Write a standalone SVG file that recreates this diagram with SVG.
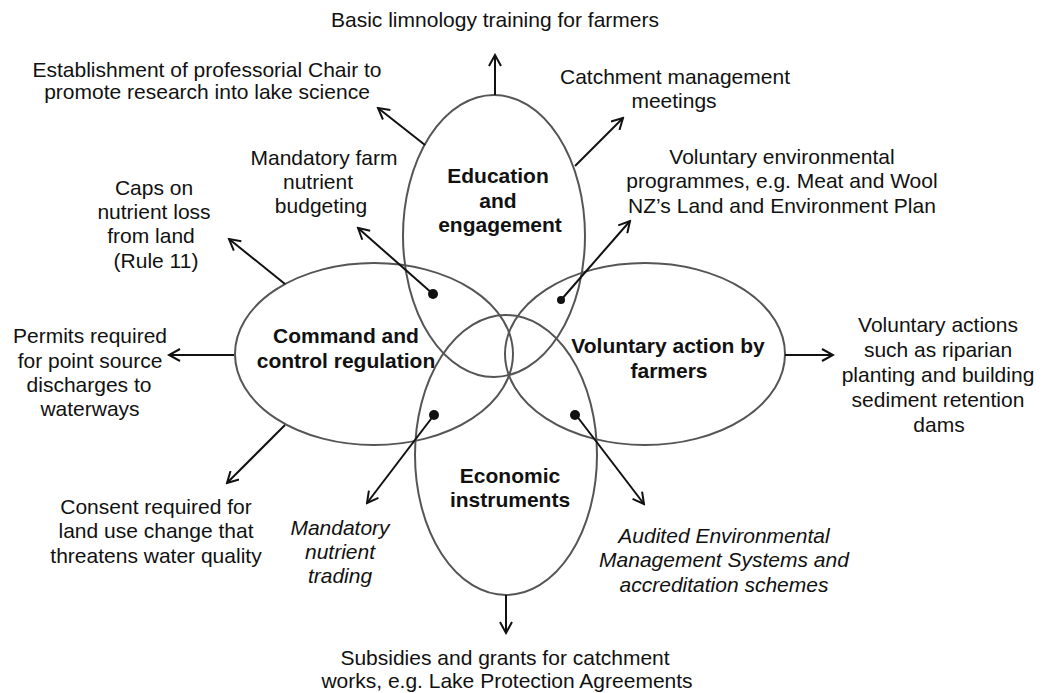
<svg xmlns="http://www.w3.org/2000/svg" width="1042" height="693" viewBox="0 0 1042 693">
<style>
.t{font-family:"Liberation Sans",Arial,sans-serif;font-size:21px;fill:#111;text-anchor:middle}
.b{font-weight:bold}
.i{font-style:italic}
.e{fill:none;stroke:#555;stroke-width:2}
.c{fill:none;stroke:#111;stroke-width:2;marker-end:url(#ah)}
</style>
<defs>
<marker id="ah" markerUnits="userSpaceOnUse" viewBox="0 0 14 14" refX="12" refY="7" markerWidth="14" markerHeight="14" orient="auto">
<path d="M1,1 L12,7 L1,13" fill="none" stroke="#111" stroke-width="2"/>
</marker>
</defs>
<rect width="1042" height="693" fill="#fff"/>
<g id="education">
<ellipse class="e" cx="494" cy="236" rx="91" ry="141"/>
<text class="t b" x="498" y="183">Education</text>
<text class="t b" x="498" y="208">and</text>
<text class="t b" x="500" y="232">engagement</text>
</g>
<g id="command">
<ellipse class="e" cx="374" cy="354" rx="139" ry="91"/>
<text class="t b" x="346" y="343">Command and</text>
<text class="t b" x="346" y="368">control regulation</text>
</g>
<g id="voluntary">
<ellipse class="e" cx="645" cy="354" rx="140" ry="91"/>
<text class="t b" x="668" y="353">Voluntary action  by</text>
<text class="t b" x="669" y="378">farmers</text>
</g>
<g id="economic">
<ellipse class="e" cx="506" cy="455" rx="91" ry="140"/>
<text class="t b" x="510" y="483">Economic</text>
<text class="t b" x="510" y="507">instruments</text>
</g>
<g id="connectors">
<line class="c" x1="495" y1="95" x2="495" y2="55"/>
<line class="c" x1="425" y1="145" x2="378" y2="108"/>
<line class="c" x1="575" y1="166" x2="623" y2="118"/>
<line class="c" x1="561" y1="300" x2="630" y2="221"/>
<line class="c" x1="433" y1="294" x2="358" y2="228"/>
<line class="c" x1="285" y1="284" x2="229" y2="239"/>
<line class="c" x1="234" y1="355" x2="169" y2="355"/>
<line class="c" x1="285" y1="425" x2="227" y2="483"/>
<line class="c" x1="434" y1="415" x2="367" y2="503"/>
<line class="c" x1="576" y1="415" x2="644" y2="504"/>
<line class="c" x1="785" y1="355" x2="833" y2="355"/>
<line class="c" x1="506" y1="595" x2="506" y2="633"/>
<circle cx="433" cy="294" r="5" fill="#111"/>
<circle cx="561" cy="300" r="4" fill="#111"/>
<circle cx="434" cy="415" r="5" fill="#111"/>
<circle cx="575" cy="415" r="5" fill="#111"/>
</g>
<g id="basic-limnology">
<text class="t" x="495" y="27">Basic limnology training for farmers</text>
</g>
<g id="chair">
<text class="t" x="207" y="77">Establishment of professorial Chair to</text>
<text class="t" x="207" y="99">promote research into lake science</text>
</g>
<g id="catchment-meetings">
<text class="t" x="675" y="84">Catchment management</text>
<text class="t" x="674" y="108">meetings</text>
</g>
<g id="voluntary-programmes">
<text class="t" x="782" y="164">Voluntary environmental</text>
<text class="t" x="782" y="188">programmes, e.g. Meat and Wool</text>
<text class="t" x="782" y="213">NZ’s Land and Environment Plan</text>
</g>
<g id="nutrient-budgeting">
<text class="t" x="324" y="165">Mandatory farm</text>
<text class="t" x="318" y="189">nutrient</text>
<text class="t" x="321" y="213">budgeting</text>
</g>
<g id="caps">
<text class="t" x="154" y="195">Caps on</text>
<text class="t" x="154" y="219">nutrient loss</text>
<text class="t" x="151" y="243">from land</text>
<text class="t" x="156" y="268">(Rule 11)</text>
</g>
<g id="permits">
<text class="t" x="90" y="343">Permits required</text>
<text class="t" x="90" y="368">for point source</text>
<text class="t" x="89" y="392">discharges to</text>
<text class="t" x="90" y="416">waterways</text>
</g>
<g id="consent">
<text class="t" x="156" y="514">Consent required for</text>
<text class="t" x="156" y="538">land use change that</text>
<text class="t" x="156" y="563">threatens water quality</text>
</g>
<g id="nutrient-trading">
<text class="t i" x="340" y="535">Mandatory</text>
<text class="t i" x="340" y="559">nutrient</text>
<text class="t i" x="340" y="583">trading</text>
</g>
<g id="audited">
<text class="t i" x="724" y="543">Audited Environmental</text>
<text class="t i" x="724" y="567">Management Systems and</text>
<text class="t i" x="724" y="592">accreditation schemes</text>
</g>
<g id="voluntary-actions">
<text class="t" x="938" y="332">Voluntary actions</text>
<text class="t" x="938" y="357">such as riparian</text>
<text class="t" x="938" y="382">planting and building</text>
<text class="t" x="938" y="407">sediment retention</text>
<text class="t" x="939" y="432">dams</text>
</g>
<g id="subsidies">
<text class="t" x="505" y="665">Subsidies and grants for catchment</text>
<text class="t" x="507" y="688">works, e.g. Lake Protection Agreements</text>
</g>
</svg>
